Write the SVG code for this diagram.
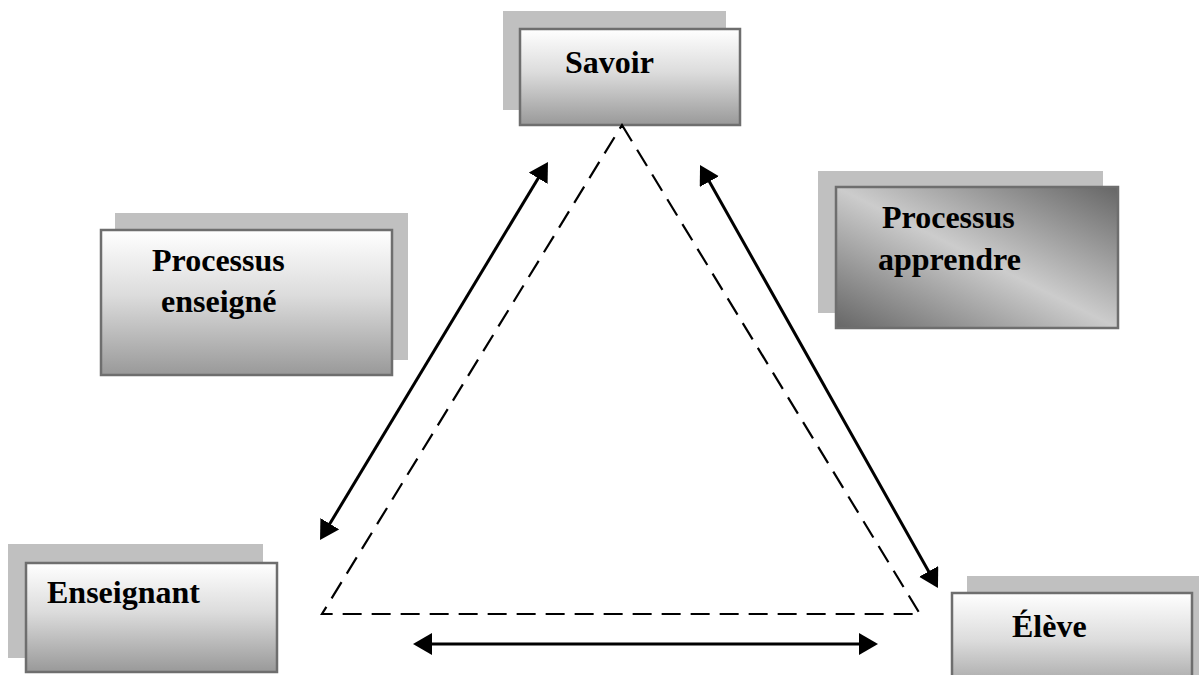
<svg xmlns="http://www.w3.org/2000/svg" width="1199" height="675" viewBox="0 0 1199 675">
  <style>
    .shadow { fill: #c0c0c0; stroke: none; }
    .box { fill: url(#vgrad); stroke: #6e6e6e; stroke-width: 2.5; }
    .box2 { fill: url(#dgrad); stroke: #6e6e6e; stroke-width: 2.5; }
    .lbl { font-family: "Liberation Serif", "Times New Roman", serif; font-weight: bold; font-size: 32px; fill: #000; }
    .dash { fill: none; stroke: #000; stroke-width: 2.2; stroke-dasharray: 19 10; }
    .arrow { fill: none; stroke: #000; stroke-width: 3; marker-start: url(#head); marker-end: url(#head); }
  </style>
  <defs>
    <linearGradient id="vgrad" x1="0" y1="0" x2="0" y2="1">
      <stop offset="0" stop-color="#ffffff"/>
      <stop offset="0.45" stop-color="#dcdcdc"/>
      <stop offset="1" stop-color="#999999"/>
    </linearGradient>
    <linearGradient id="dgrad" x1="1" y1="0" x2="0" y2="1">
      <stop offset="0" stop-color="#666666"/>
      <stop offset="0.5" stop-color="#cccccc"/>
      <stop offset="1" stop-color="#666666"/>
    </linearGradient>
    <marker id="head" viewBox="0 0 19 22" refX="15" refY="11" markerWidth="19" markerHeight="22" markerUnits="userSpaceOnUse" orient="auto-start-reverse">
      <path d="M0,0 L19,11 L0,22 Z" fill="#000"/>
    </marker>
  </defs>

  <g id="savoir">
    <rect class="shadow" x="503" y="11" width="223" height="99"/>
    <rect class="box" x="520" y="29" width="220" height="96"/>
    <text class="lbl" x="565" y="73">Savoir</text>
  </g>

  <g id="processus-apprendre">
    <rect class="shadow" x="818" y="171" width="285" height="142"/>
    <rect class="box2" x="836" y="187" width="282" height="141"/>
    <text class="lbl" x="882" y="228">Processus</text>
    <text class="lbl" x="878" y="270">apprendre</text>
  </g>

  <g id="processus-enseigne">
    <rect class="shadow" x="115" y="213" width="293" height="147"/>
    <rect class="box" x="101" y="230" width="291" height="145"/>
    <text class="lbl" x="152" y="271">Processus</text>
    <text class="lbl" x="161" y="312">enseigné</text>
  </g>

  <g id="enseignant">
    <rect class="shadow" x="8" y="544" width="255" height="114"/>
    <rect class="box" x="26" y="563" width="251" height="109"/>
    <text class="lbl" x="47" y="603">Enseignant</text>
  </g>

  <g id="eleve">
    <rect class="shadow" x="967" y="576" width="240" height="120"/>
    <rect class="box" x="952" y="593" width="240" height="105"/>
    <text class="lbl" x="1012" y="637">Élève</text>
  </g>

  <g id="connectors">
    <polygon class="dash" points="622,125 920,614 322,614"/>
    <line class="arrow" x1="322.1" y1="536.6" x2="545.9" y2="165.4"/>
    <line class="arrow" x1="702" y1="168.5" x2="936" y2="584.5"/>
    <line class="arrow" x1="417" y1="644" x2="874" y2="644"/>
  </g>
</svg>
